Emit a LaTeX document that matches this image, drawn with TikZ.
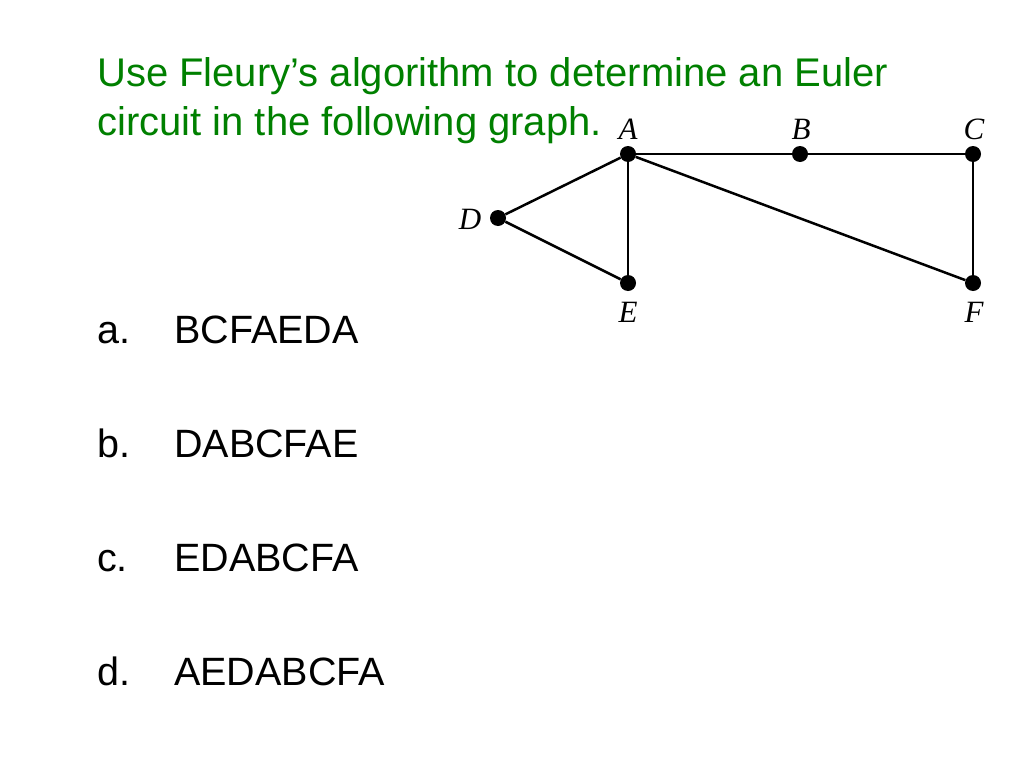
\documentclass[tikz,border=0pt]{standalone}
\usepackage{fontspec}
\setmainfont{Liberation Sans}
\newfontfamily\lblfont{Liberation Serif}
\definecolor{titlegreen}{RGB}{0,128,0}
\begin{document}
\begin{tikzpicture}[x=1pt,y=-1pt,
  vtx/.style={circle,fill=black,inner sep=0pt,minimum size=16pt},
  lbl/.style={font=\lblfont\itshape\fontsize{31}{31}\selectfont,inner sep=0pt},
  edge/.style={line width=2.5pt,black},
  title/.style={font=\fontsize{40}{48}\selectfont,text=titlegreen,anchor=base west,inner sep=0pt,align=left},
  item/.style={font=\fontsize{39.5}{39.5}\selectfont,anchor=base west,inner sep=0pt}]
\useasboundingbox[fill=white] (0,0) rectangle (1024,768);
\node[title] (t1) at (97,86) {Use Fleury’s algorithm to determine an Euler};
\node[title] (t2) at (97,135) {circuit in the following graph.};
% vertices
\node[vtx] (A) at (628,154) {};
\node[vtx] (B) at (800,154) {};
\node[vtx] (C) at (973,154) {};
\node[vtx] (D) at (498,218) {};
\node[vtx] (E) at (628,283) {};
\node[vtx] (F) at (973,283) {};
\draw[edge] (A) -- (B);
\draw[edge] (B) -- (C);
\draw[edge] (C) -- (F);
\draw[edge] (A) -- (F);
\draw[edge] (A) -- (E);
\draw[edge] (A) -- (D);
\draw[edge] (D) -- (E);
\node[lbl] (lA) at (628,129) {A};
\node[lbl] (lB) at (801,129) {B};
\node[lbl] (lC) at (974,129) {C};
\node[lbl] (lD) at (470,219) {D};
\node[lbl] (lE) at (628,312) {E};
\node[lbl] (lF) at (974,312) {F};
% answers
\node[item] (a1) at (97,343) {a.};
\node[item] (a2) at (174,343) {BCFAEDA};
\node[item] (b1) at (97,457) {b.};
\node[item] (b2) at (174,457) {DABCFAE};
\node[item] (c1) at (97,571) {c.};
\node[item] (c2) at (174,571) {EDABCFA};
\node[item] (d1) at (97,685) {d.};
\node[item] (d2) at (174,685) {AEDABCFA};
\end{tikzpicture}
\end{document}
